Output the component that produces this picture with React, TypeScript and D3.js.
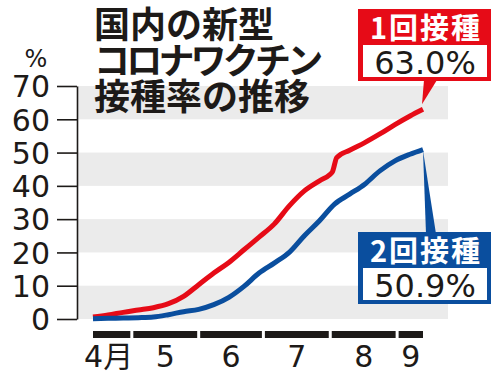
import { useEffect, useRef } from 'react'
import * as d3 from 'd3'

// 1回接種 (first dose) share of population, %
const firstDates = [
  '2021-04-13', '2021-04-20', '2021-04-27', '2021-05-04', '2021-05-11', '2021-05-18',
  '2021-05-25', '2021-06-01', '2021-06-08', '2021-06-15', '2021-06-22', '2021-06-29',
  '2021-07-06', '2021-07-13', '2021-07-20', '2021-07-27', '2021-08-01', '2021-08-02',
  '2021-08-04', '2021-08-10', '2021-08-17', '2021-08-24', '2021-08-31', '2021-09-07',
  '2021-09-13',
]
const firstValues = [
  0.6, 1.2, 2.0, 2.7, 3.4, 4.6,
  6.8, 10.3, 13.8, 17.0, 20.8, 24.6,
  28.5, 34.0, 38.5, 41.5, 43.5, 44.2,
  48.5, 50.7, 53.0, 55.6, 58.4, 61.0,
  63.0,
]

// 2回接種 (second dose)
const secondDates = [
  '2021-04-13', '2021-04-20', '2021-04-27', '2021-05-04', '2021-05-11', '2021-05-18',
  '2021-05-25', '2021-06-01', '2021-06-08', '2021-06-15', '2021-06-22', '2021-06-29',
  '2021-07-06', '2021-07-13', '2021-07-20', '2021-07-27', '2021-08-03', '2021-08-10',
  '2021-08-17', '2021-08-24', '2021-08-31', '2021-09-07', '2021-09-13',
]
const secondValues = [
  0.1, 0.2, 0.3, 0.4, 0.6, 1.3,
  2.2, 2.9, 4.3, 6.5, 9.8, 13.8,
  16.8, 20.0, 25.0, 29.5, 34.5, 37.5,
  40.5, 44.5, 47.5, 49.5, 50.9,
]

const yTicks = [0, 10, 20, 30, 40, 50, 60, 70]
const monthLabels = ['4月', '5', '6', '7', '8', '9']
const titleLines = ['国内の新型', 'コロナワクチン', '接種率の推移']
const labelFirst = { title: '1回接種', value: '63.0%' }
const labelSecond = { title: '2回接種', value: '50.9%' }

const RED = '#e60b17'
const BLUE = '#0a4e9e'
const INK = '#1d1a18'
const BAND = '#ebebeb'
const NUM_FONT = '"DejaVu Sans", "Noto Sans CJK JP", sans-serif'
const JP_FONT = '"Noto Sans CJK JP", sans-serif'

export default function App() {
  const ref = useRef<SVGSVGElement>(null)

  useEffect(() => {
    if (!ref.current) return
    const W = 500
    const H = 373
    const parse = d3.timeParse('%Y-%m-%d')

    const svg = d3.select(ref.current)
    svg.selectAll('*').remove()
    svg.attr('width', W).attr('height', H).attr('viewBox', `0 0 ${W} ${H}`)

    const start = parse('2021-04-13')!
    const end = parse('2021-09-13')!
    const x = d3.scaleTime().domain([start, end]).range([93, 423])
    const y = d3.scaleLinear().domain([0, 70]).range([319, 86])
    const axisX = 77
    const bandRight = 448

    // alternating grey bands
    svg.append('g')
      .selectAll('rect')
      .data(yTicks.filter((t) => t % 20 === 0 && t < 70))
      .join('rect')
      .attr('x', axisX)
      .attr('y', (d) => y(d + 10))
      .attr('width', bandRight - axisX)
      .attr('height', (d) => y(d) - y(d + 10))
      .attr('fill', BAND)

    // title
    svg.append('g')
      .selectAll('text')
      .data(titleLines)
      .join('text')
      .attr('x', 94)
      .attr('y', (_, i) => 38 + i * 36)
      .attr('font-family', JP_FONT)
      .attr('font-weight', 700)
      .attr('font-size', 36)
      .attr('letter-spacing', (_, i) => (i === 1 ? -3.8 : 0))
      .attr('fill', INK)
      .text((d) => d)

    // y axis
    const yAxis = svg.append('g')
      .attr('transform', `translate(${axisX},0)`)
      .call(d3.axisLeft(y).tickValues(yTicks).tickSize(20).tickSizeOuter(0).tickPadding(7))
    yAxis.select('.domain').attr('stroke', INK).attr('stroke-width', 1.6)
    yAxis.selectAll('line').attr('stroke', INK).attr('stroke-width', 1.6)
    yAxis.selectAll('text')
      .attr('font-family', NUM_FONT)
      .attr('font-size', 30)
      .attr('fill', INK)
      .attr('dy', '0.36em')

    svg.append('text')
      .attr('x', 36)
      .attr('y', 67)
      .attr('text-anchor', 'middle')
      .attr('font-family', NUM_FONT)
      .attr('font-size', 24)
      .attr('fill', INK)
      .text('%')

    // month bars + labels
    const months = d3.timeMonth.range(d3.timeMonth.floor(start), end)
    const segs = months.map((m, i) => {
      const s = m < start ? start : m
      const nx = d3.timeMonth.offset(m, 1)
      const e = nx > end ? end : nx
      const x0 = x(s) + (i > 0 ? 1.5 : 0)
      const x1 = x(e) - (i < months.length - 1 ? 1.5 : 0)
      return { x0, x1, label: monthLabels[i] }
    })
    svg.append('g')
      .selectAll('rect')
      .data(segs)
      .join('rect')
      .attr('x', (d) => d.x0)
      .attr('y', 331)
      .attr('width', (d) => d.x1 - d.x0)
      .attr('height', 7)
      .attr('fill', INK)
    svg.append('g')
      .selectAll('text')
      .data(segs)
      .join('text')
      .attr('x', (d, i) => (d.x0 + d.x1) / 2 - (i === 0 ? 3 : 0))
      .attr('y', 367)
      .attr('text-anchor', 'middle')
      .attr('font-family', NUM_FONT)
      .attr('font-size', 30)
      .attr('fill', INK)
      .text((d) => d.label)

    // lines
    const line = d3.line<[Date, number]>()
      .x((d) => x(d[0]))
      .y((d) => y(d[1]))
      .curve(d3.curveMonotoneX)
    const firstData = firstDates.map((d, i) => [parse(d)!, firstValues[i]] as [Date, number])
    const secondData = secondDates.map((d, i) => [parse(d)!, secondValues[i]] as [Date, number])

    svg.append('path')
      .attr('d', line(firstData))
      .attr('fill', 'none')
      .attr('stroke', RED)
      .attr('stroke-width', 5)
      .attr('stroke-linejoin', 'round')
    svg.append('path')
      .attr('d', line(secondData))
      .attr('fill', 'none')
      .attr('stroke', BLUE)
      .attr('stroke-width', 5)
      .attr('stroke-linejoin', 'round')

    // callout boxes
    const callout = (
      top: number,
      color: string,
      lab: { title: string; value: string },
      pointer: [number, number][],
    ) => {
      const g = svg.append('g')
      g.append('path')
        .attr('d', d3.line()(pointer) + 'Z')
        .attr('fill', color)
      g.append('rect')
        .attr('x', 358).attr('y', top)
        .attr('width', 133).attr('height', 72)
        .attr('fill', color)
      g.append('rect')
        .attr('x', 363).attr('y', top + 36)
        .attr('width', 124).attr('height', 32)
        .attr('fill', '#fff')
      g.append('text')
        .attr('x', 426).attr('y', top + 30)
        .attr('text-anchor', 'middle')
        .attr('font-family', JP_FONT)
        .attr('font-weight', 700)
        .attr('font-size', 29)
        .attr('letter-spacing', 2)
        .attr('fill', '#fff')
        .text(lab.title)
      g.append('text')
        .attr('x', 425).attr('y', top + 65)
        .attr('text-anchor', 'middle')
        .attr('font-family', NUM_FONT)
        .attr('font-size', 32)
        .attr('fill', INK)
        .text(lab.value)
    }
    const endX = x(end)
    callout(9, RED, labelFirst, [
      [424, 80], [437, 80], [endX - 1, y(63.0) - 5],
    ])
    callout(232, BLUE, labelSecond, [
      [426, 234], [436, 234], [endX, y(50.9) + 1],
    ])
  }, [])

  return (
    <div style={{ position: 'absolute', left: 0, top: 0, background: '#fff' }}>
      <svg ref={ref} style={{ display: 'block' }} />
    </div>
  )
}
